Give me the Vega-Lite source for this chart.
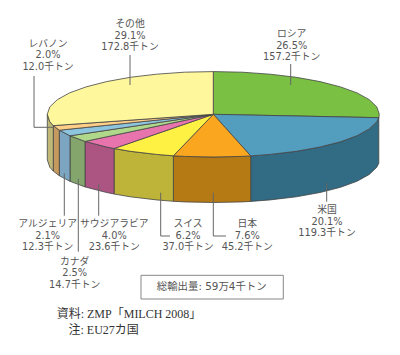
{"$schema":"https://vega.github.io/schema/vega-lite/v6.json","width":400,"height":355,"padding":0,"autosize":"none","background":"white","config":{"view":{"stroke":null}},
"datasets":{
"top":[
{"name":"ロシア","seq":0,"x":213.3,"y":114.3},{"name":"ロシア","seq":1,"x":213.3,"y":71.6},{"name":"ロシア","seq":2,"x":242.1,"y":72.2},{"name":"ロシア","seq":3,"x":270.1,"y":74.2},{"name":"ロシア","seq":4,"x":296.3,"y":77.3},{"name":"ロシア","seq":5,"x":320.0,"y":81.6},{"name":"ロシア","seq":6,"x":340.5,"y":86.9},{"name":"ロシア","seq":7,"x":357.1,"y":92.9},{"name":"ロシア","seq":8,"x":369.3,"y":99.7},{"name":"ロシア","seq":9,"x":376.8,"y":106.9},{"name":"ロシア","seq":10,"x":379.3,"y":114.3},{"name":"ロシア","seq":11,"x":378.8,"y":117.7},{"name":"ロシア","seq":12,"x":213.3,"y":114.3},
{"name":"米国","seq":0,"x":213.3,"y":114.3},{"name":"米国","seq":1,"x":378.8,"y":117.7},{"name":"米国","seq":2,"x":376.8,"y":121.7},{"name":"米国","seq":3,"x":369.3,"y":128.9},{"name":"米国","seq":4,"x":357.1,"y":135.7},{"name":"米国","seq":5,"x":340.5,"y":141.8},{"name":"米国","seq":6,"x":320.0,"y":147.0},{"name":"米国","seq":7,"x":296.3,"y":151.3},{"name":"米国","seq":8,"x":270.1,"y":154.4},{"name":"米国","seq":9,"x":250.7,"y":155.9},{"name":"米国","seq":10,"x":213.3,"y":114.3},
{"name":"日本","seq":0,"x":213.3,"y":114.3},{"name":"日本","seq":1,"x":250.7,"y":155.9},{"name":"日本","seq":2,"x":242.1,"y":156.4},{"name":"日本","seq":3,"x":213.3,"y":157.0},{"name":"日本","seq":4,"x":184.5,"y":156.4},{"name":"日本","seq":5,"x":173.4,"y":155.8},{"name":"日本","seq":6,"x":213.3,"y":114.3},
{"name":"スイス","seq":0,"x":213.3,"y":114.3},{"name":"スイス","seq":1,"x":173.4,"y":155.8},{"name":"スイス","seq":2,"x":156.5,"y":154.4},{"name":"スイス","seq":3,"x":130.3,"y":151.3},{"name":"スイス","seq":4,"x":114.1,"y":148.5},{"name":"スイス","seq":5,"x":213.3,"y":114.3},
{"name":"サウジアラビア","seq":0,"x":213.3,"y":114.3},{"name":"サウジアラビア","seq":1,"x":114.1,"y":148.5},{"name":"サウジアラビア","seq":2,"x":106.6,"y":147.0},{"name":"サウジアラビア","seq":3,"x":85.0,"y":141.4},{"name":"サウジアラビア","seq":4,"x":213.3,"y":114.3},
{"name":"カナダ","seq":0,"x":213.3,"y":114.3},{"name":"カナダ","seq":1,"x":85.0,"y":141.4},{"name":"カナダ","seq":2,"x":70.0,"y":135.8},{"name":"カナダ","seq":3,"x":213.3,"y":114.3},
{"name":"アルジェリア","seq":0,"x":213.3,"y":114.3},{"name":"アルジェリア","seq":1,"x":70.0,"y":135.8},{"name":"アルジェリア","seq":2,"x":59.3,"y":130.2},{"name":"アルジェリア","seq":3,"x":213.3,"y":114.3},
{"name":"レバノン","seq":0,"x":213.3,"y":114.3},{"name":"レバノン","seq":1,"x":59.3,"y":130.2},{"name":"レバノン","seq":2,"x":53.3,"y":125.6},{"name":"レバノン","seq":3,"x":213.3,"y":114.3},
{"name":"その他","seq":0,"x":213.3,"y":114.3},{"name":"その他","seq":1,"x":53.3,"y":125.6},{"name":"その他","seq":2,"x":49.8,"y":121.7},{"name":"その他","seq":3,"x":47.3,"y":114.3},{"name":"その他","seq":4,"x":49.8,"y":106.9},{"name":"その他","seq":5,"x":57.3,"y":99.7},{"name":"その他","seq":6,"x":69.5,"y":92.9},{"name":"その他","seq":7,"x":86.1,"y":86.9},{"name":"その他","seq":8,"x":106.6,"y":81.6},{"name":"その他","seq":9,"x":130.3,"y":77.3},{"name":"その他","seq":10,"x":156.5,"y":74.2},{"name":"その他","seq":11,"x":184.5,"y":72.2},{"name":"その他","seq":12,"x":213.3,"y":71.6},{"name":"その他","seq":13,"x":213.3,"y":114.3}
],
"wall":[
{"name":"米国","seq":0,"x":378.8,"y":117.7},{"name":"米国","seq":1,"x":376.8,"y":121.7},{"name":"米国","seq":2,"x":369.3,"y":128.9},{"name":"米国","seq":3,"x":357.1,"y":135.7},{"name":"米国","seq":4,"x":340.5,"y":141.8},{"name":"米国","seq":5,"x":320.0,"y":147.0},{"name":"米国","seq":6,"x":296.3,"y":151.3},{"name":"米国","seq":7,"x":270.1,"y":154.4},{"name":"米国","seq":8,"x":250.7,"y":155.9},{"name":"米国","seq":9,"x":250.7,"y":201.4},{"name":"米国","seq":10,"x":270.1,"y":199.9},{"name":"米国","seq":11,"x":296.3,"y":196.8},{"name":"米国","seq":12,"x":320.0,"y":192.5},{"name":"米国","seq":13,"x":340.5,"y":187.3},{"name":"米国","seq":14,"x":357.1,"y":181.2},{"name":"米国","seq":15,"x":369.3,"y":174.4},{"name":"米国","seq":16,"x":376.8,"y":167.2},{"name":"米国","seq":17,"x":378.8,"y":163.2},{"name":"米国","seq":18,"x":378.8,"y":117.7},
{"name":"日本","seq":0,"x":250.7,"y":155.9},{"name":"日本","seq":1,"x":242.1,"y":156.4},{"name":"日本","seq":2,"x":213.3,"y":157.0},{"name":"日本","seq":3,"x":184.5,"y":156.4},{"name":"日本","seq":4,"x":173.4,"y":155.8},{"name":"日本","seq":5,"x":173.4,"y":201.3},{"name":"日本","seq":6,"x":184.5,"y":201.9},{"name":"日本","seq":7,"x":213.3,"y":202.5},{"name":"日本","seq":8,"x":242.1,"y":201.9},{"name":"日本","seq":9,"x":250.7,"y":201.4},{"name":"日本","seq":10,"x":250.7,"y":155.9},
{"name":"スイス","seq":0,"x":173.4,"y":155.8},{"name":"スイス","seq":1,"x":156.5,"y":154.4},{"name":"スイス","seq":2,"x":130.3,"y":151.3},{"name":"スイス","seq":3,"x":114.1,"y":148.5},{"name":"スイス","seq":4,"x":114.1,"y":194.0},{"name":"スイス","seq":5,"x":130.3,"y":196.8},{"name":"スイス","seq":6,"x":156.5,"y":199.9},{"name":"スイス","seq":7,"x":173.4,"y":201.3},{"name":"スイス","seq":8,"x":173.4,"y":155.8},
{"name":"サウジアラビア","seq":0,"x":114.1,"y":148.5},{"name":"サウジアラビア","seq":1,"x":106.6,"y":147.0},{"name":"サウジアラビア","seq":2,"x":85.0,"y":141.4},{"name":"サウジアラビア","seq":3,"x":85.0,"y":186.9},{"name":"サウジアラビア","seq":4,"x":106.6,"y":192.5},{"name":"サウジアラビア","seq":5,"x":114.1,"y":194.0},{"name":"サウジアラビア","seq":6,"x":114.1,"y":148.5},
{"name":"カナダ","seq":0,"x":85.0,"y":141.4},{"name":"カナダ","seq":1,"x":70.0,"y":135.8},{"name":"カナダ","seq":2,"x":70.0,"y":181.3},{"name":"カナダ","seq":3,"x":85.0,"y":186.9},{"name":"カナダ","seq":4,"x":85.0,"y":141.4},
{"name":"アルジェリア","seq":0,"x":70.0,"y":135.8},{"name":"アルジェリア","seq":1,"x":59.3,"y":130.2},{"name":"アルジェリア","seq":2,"x":59.3,"y":175.7},{"name":"アルジェリア","seq":3,"x":70.0,"y":181.3},{"name":"アルジェリア","seq":4,"x":70.0,"y":135.8},
{"name":"レバノン","seq":0,"x":59.3,"y":130.2},{"name":"レバノン","seq":1,"x":53.3,"y":125.6},{"name":"レバノン","seq":2,"x":53.3,"y":171.1},{"name":"レバノン","seq":3,"x":59.3,"y":175.7},{"name":"レバノン","seq":4,"x":59.3,"y":130.2},
{"name":"その他","seq":0,"x":53.3,"y":125.6},{"name":"その他","seq":1,"x":49.8,"y":121.7},{"name":"その他","seq":2,"x":47.3,"y":114.3},{"name":"その他","seq":3,"x":47.3,"y":159.8},{"name":"その他","seq":4,"x":49.8,"y":167.2},{"name":"その他","seq":5,"x":53.3,"y":171.1},{"name":"その他","seq":6,"x":53.3,"y":125.6}
],
"leaders":[
{"name":"ロシア","seq":0,"x":290.7,"y":64},{"name":"ロシア","seq":1,"x":290.7,"y":85},
{"name":"その他","seq":0,"x":130,"y":55},{"name":"その他","seq":1,"x":130,"y":85},
{"name":"レバノン","seq":0,"x":34,"y":76},{"name":"レバノン","seq":1,"x":34,"y":127.3},{"name":"レバノン","seq":2,"x":54,"y":127.3},
{"name":"米国","seq":0,"x":326.7,"y":183},{"name":"米国","seq":1,"x":326.7,"y":201.7},
{"name":"日本","seq":0,"x":213.3,"y":192.7},{"name":"日本","seq":1,"x":213.3,"y":236},{"name":"日本","seq":2,"x":226,"y":236},
{"name":"スイス","seq":0,"x":160.7,"y":192.7},{"name":"スイス","seq":1,"x":160.7,"y":236},{"name":"スイス","seq":2,"x":170,"y":236},
{"name":"サウジアラビア","seq":0,"x":98.7,"y":184},{"name":"サウジアラビア","seq":1,"x":98.7,"y":215.7},
{"name":"カナダ","seq":0,"x":78.3,"y":178.7},{"name":"カナダ","seq":1,"x":78.3,"y":251.7},
{"name":"アルジェリア","seq":0,"x":64.3,"y":173.3},{"name":"アルジェリア","seq":1,"x":64.3,"y":215.7}
],
"labels":[
{"label":"ロシア\n26.5%\n157.2千トン","x":291.7,"y":34},
{"label":"米国\n20.1%\n119.3千トン","x":327,"y":210},
{"label":"日本\n7.6%\n45.2千トン","x":247.3,"y":224},
{"label":"スイス\n6.2%\n37.0千トン","x":188,"y":224},
{"label":"サウジアラビア\n4.0%\n23.6千トン","x":114.3,"y":224},
{"label":"カナダ\n2.5%\n14.7千トン","x":74.7,"y":261.7},
{"label":"アルジェリア\n2.1%\n12.3千トン","x":47.7,"y":224},
{"label":"レバノン\n2.0%\n12.0千トン","x":48,"y":43.7},
{"label":"その他\n29.1%\n172.8千トン","x":130,"y":24}
],
"box":[{"x":141,"x2":283.3,"y":275.3,"y2":299}],
"boxText":[{"label":"総輸出量: 59万4千トン","x":211.7,"y":287}],
"notes":[{"label":"資料: ZMP「MILCH 2008」","x":56.7,"y":313.7},{"label":"注: EU27カ国","x":68.5,"y":329.7}]
},
"layer":[
{"data":{"name":"wall"},"mark":{"type":"line","stroke":"#444444","strokeWidth":0.8,"strokeJoin":"round"},"encoding":{
"x":{"field":"x","type":"quantitative","scale":{"domain":[0,400],"range":[0,400],"nice":false,"zero":false},"axis":null},
"y":{"field":"y","type":"quantitative","scale":{"domain":[0,355],"range":[0,355],"nice":false,"zero":false},"axis":null},
"order":{"field":"seq","type":"quantitative"},
"detail":{"field":"name"},
"fill":{"field":"name","type":"nominal","legend":null,"scale":{"domain":["米国","日本","スイス","サウジアラビア","カナダ","アルジェリア","レバノン","その他"],"range":["#316B84","#B57A14","#BFB43A","#AC5582","#84A66D","#7BA5C0","#C49A5E","#BFB877"]}}}},
{"data":{"name":"top"},"mark":{"type":"line","stroke":"#444444","strokeWidth":0.8,"strokeJoin":"round"},"encoding":{
"x":{"field":"x","type":"quantitative","axis":null},
"y":{"field":"y","type":"quantitative","axis":null},
"order":{"field":"seq","type":"quantitative"},
"detail":{"field":"name"},
"fill":{"field":"name","type":"nominal","legend":null,"scale":{"domain":["ロシア","米国","日本","スイス","サウジアラビア","カナダ","アルジェリア","レバノン","その他"],"range":["#7AC143","#539DBF","#FAA61F","#FFF143","#E874AE","#B0D88A","#8DC4DE","#FFCE87","#FFF79C"]}}}},
{"data":{"name":"leaders"},"mark":{"type":"line","stroke":"#666666","strokeWidth":1},"encoding":{
"x":{"field":"x","type":"quantitative","axis":null},
"y":{"field":"y","type":"quantitative","axis":null},
"order":{"field":"seq","type":"quantitative"},
"detail":{"field":"name"}}},
{"data":{"name":"box"},"mark":{"type":"rect","fill":"white","stroke":"#888888","strokeWidth":1},"encoding":{
"x":{"field":"x","type":"quantitative","axis":null},"x2":{"field":"x2"},
"y":{"field":"y","type":"quantitative","axis":null},"y2":{"field":"y2"}}},
{"data":{"name":"labels"},"mark":{"type":"text","font":"DejaVu Sans, Noto Sans CJK JP","fontSize":9.8,"color":"#555555","lineBreak":"\n","lineHeight":11.6,"align":"center","baseline":"middle"},"encoding":{
"x":{"field":"x","type":"quantitative","axis":null},
"y":{"field":"y","type":"quantitative","axis":null},
"text":{"field":"label"}}},
{"data":{"name":"boxText"},"mark":{"type":"text","font":"DejaVu Sans, Noto Sans CJK JP","fontSize":10.4,"color":"#555555","align":"center","baseline":"middle"},"encoding":{
"x":{"field":"x","type":"quantitative","axis":null},
"y":{"field":"y","type":"quantitative","axis":null},
"text":{"field":"label"}}},
{"data":{"name":"notes"},"mark":{"type":"text","font":"Liberation Serif, Noto Sans CJK JP","fontSize":12,"color":"#333333","align":"left","baseline":"middle"},"encoding":{
"x":{"field":"x","type":"quantitative","axis":null},
"y":{"field":"y","type":"quantitative","axis":null},
"text":{"field":"label"}}}
],
"resolve":{"scale":{"fill":"independent"}}
}
